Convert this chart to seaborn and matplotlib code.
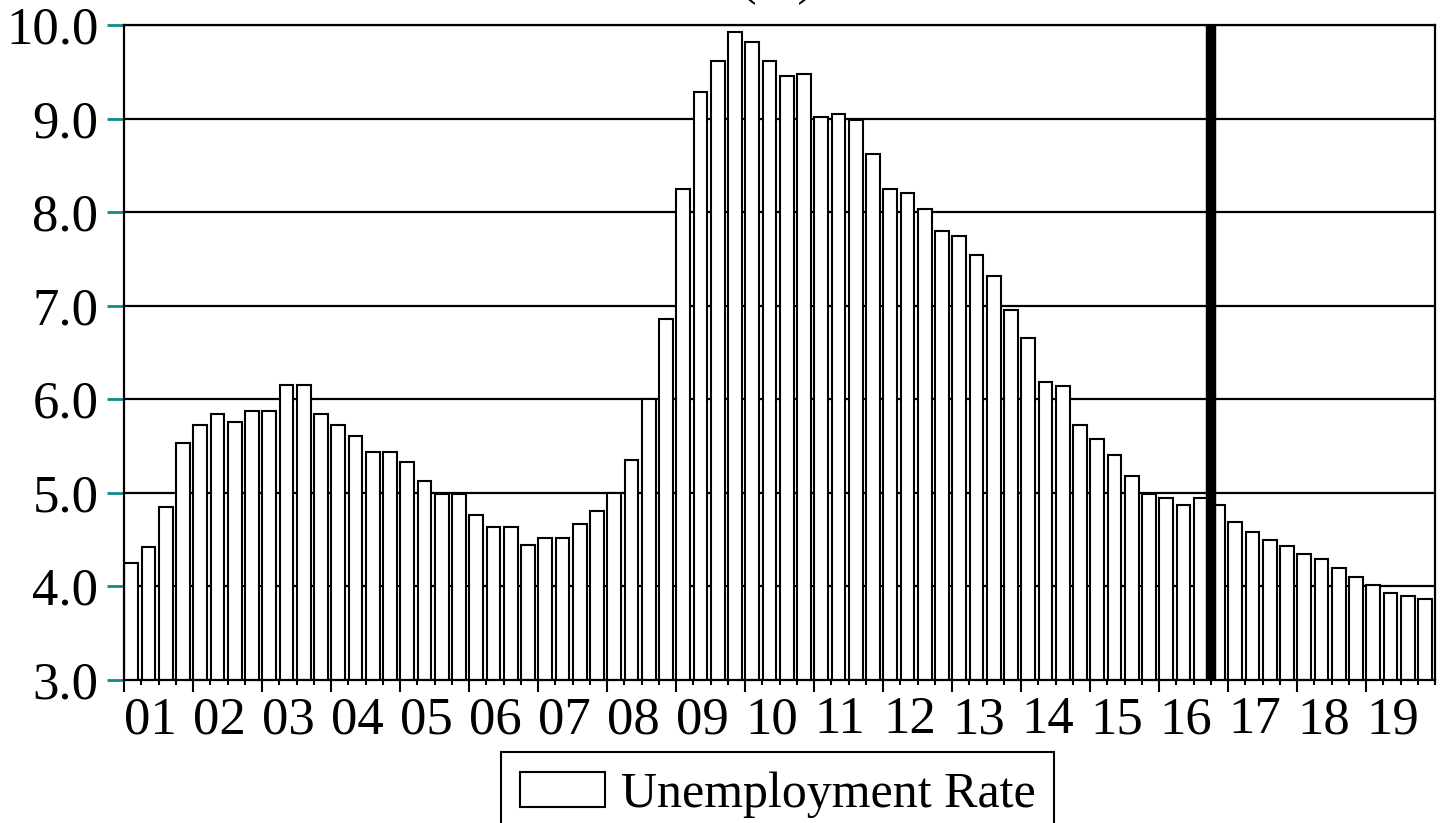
import numpy as np
import pandas as pd
import matplotlib
matplotlib.use("Agg")
import matplotlib.pyplot as plt
import seaborn as sns

# ---------------- data ----------------
years = [f"{y:02d}" for y in range(1, 20)]
quarters = [f"20{y}Q{q}" for y in years for q in range(1, 5)]
rate = [
    4.25, 4.42, 4.85, 5.53,   # 2001
    5.72, 5.84, 5.76, 5.87,   # 2002
    5.87, 6.15, 6.15, 5.84,   # 2003
    5.72, 5.61, 5.44, 5.44,   # 2004
    5.33, 5.13, 4.99, 4.99,   # 2005
    4.76, 4.64, 4.64, 4.44,   # 2006
    4.52, 4.52, 4.67, 4.81,   # 2007
    5.00, 5.35, 6.00, 6.86,   # 2008
    8.25, 9.28, 9.62, 9.93,   # 2009
    9.82, 9.62, 9.45, 9.48,   # 2010
    9.02, 9.05, 8.99, 8.62,   # 2011
    8.25, 8.20, 8.03, 7.80,   # 2012
    7.74, 7.54, 7.32, 6.95,   # 2013
    6.66, 6.18, 6.14, 5.72,   # 2014
    5.58, 5.40, 5.18, 4.99,   # 2015
    4.95, 4.87, 4.95, 4.87,   # 2016
    4.69, 4.58, 4.50, 4.43,   # 2017
    4.35, 4.29, 4.20, 4.10,   # 2018
    4.01, 3.93, 3.90, 3.87,   # 2019
]
series_label = "Unemployment Rate"
title_text = "(%)"
marker_quarter = "2016Q4"
y_ticks = [3.0, 4.0, 5.0, 6.0, 7.0, 8.0, 9.0, 10.0]
y_tick_labels = [f"{v:.1f}" for v in y_ticks]

# ---------------- style ----------------
sns.set_theme(style="white")
plt.rcParams["font.family"] = ["Liberation Serif", "DejaVu Serif"]
for k in ["text.color", "axes.labelcolor", "xtick.labelcolor", "ytick.labelcolor"]:
    plt.rcParams[k] = "black"
FS_TICK = 38
FS_LEG = 36

W, H = 1443, 823
fig = plt.figure(figsize=(W / 100, H / 100), dpi=100)
ax = fig.add_axes([124 / W, 1 - 680 / H, (1435 - 124) / W, (680 - 25) / H])

df = pd.DataFrame({"quarter": quarters, "rate": rate})
sns.barplot(data=df, x="quarter", y="rate", color="white", saturation=1,
            edgecolor="black", linewidth=1.5, width=0.8, ax=ax, zorder=2)

# x axis: slot boundaries slightly left of each bar
off = 0.42
bounds = np.arange(len(quarters) + 1) - off
ax.set_xlim(bounds[0], bounds[-1])
ax.set_xticks(bounds[0:len(quarters):4])
ax.set_xticklabels(years, fontsize=FS_TICK, ha="left", color="black")
ax.set_xticks(bounds, minor=True)
ax.tick_params(axis="x", which="major", direction="out", length=8.8, width=1.5,
               color="black", pad=3, bottom=True)
ax.tick_params(axis="x", which="minor", direction="out", length=3.8, width=1.5,
               color="black", bottom=True)

# y axis
ax.set_ylim(y_ticks[0], y_ticks[-1])
ax.set_yticks(y_ticks)
ax.set_yticklabels(y_tick_labels, fontsize=FS_TICK, color="black")
ax.tick_params(axis="y", direction="out", length=12.5, width=2, color="#14898a",
               pad=6, left=True)

ax.set_xlabel("")
ax.set_ylabel("")
ax.set_axisbelow(True)
ax.grid(axis="y", color="black", linewidth=1.6)
ax.grid(axis="x", visible=False)
for sp in ax.spines.values():
    sp.set_visible(True)
    sp.set_color("black")
    sp.set_linewidth(1.6)

# thick marker line
ax.axvline(quarters.index(marker_quarter) - off, color="black", lw=7.5, zorder=6)

# legend (its lower edge runs past the bottom of the figure, as in the original)
leg = ax.legend(handles=[ax.containers[0]], labels=[series_label],
                loc="upper center", bbox_to_anchor=(777.5 / W, 1 - 752 / H),
                bbox_transform=fig.transFigure, frameon=True, fancybox=False,
                edgecolor="black", framealpha=1, fontsize=FS_LEG,
                handlelength=1.7, handleheight=0.7, handletextpad=0.32,
                borderpad=0.38, borderaxespad=0)
leg.get_frame().set_linewidth(1.5)
for t in leg.get_texts():
    t.set_color("black")

# partially visible title at the top edge
fig.text(777.5 / W, 1 + 6 / H, title_text, ha="center", va="baseline", fontsize=FS_LEG)

fig.savefig("out.png", dpi=100)
